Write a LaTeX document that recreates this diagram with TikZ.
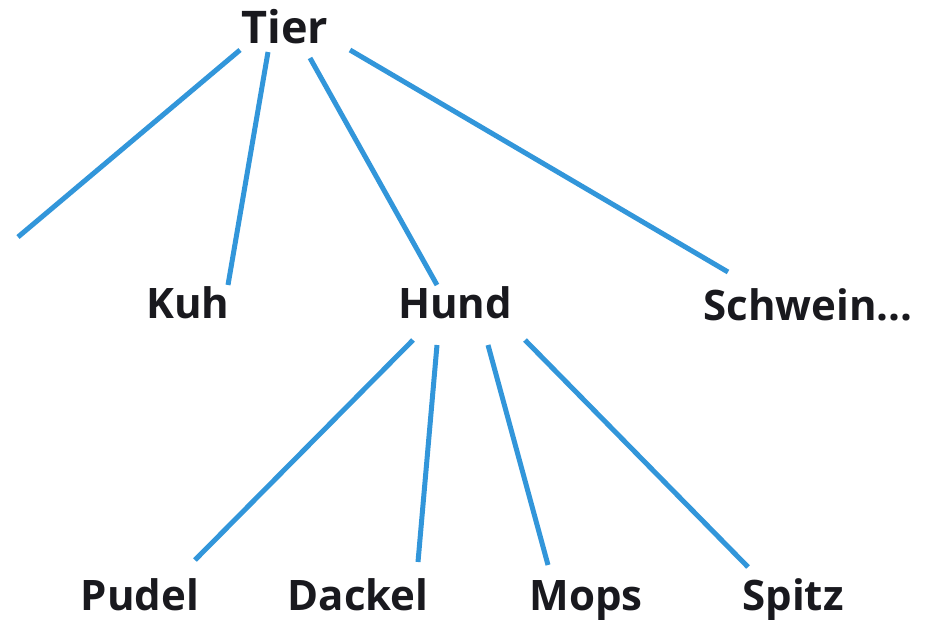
\documentclass[tikz,border=0pt]{standalone}
\usepackage{fontspec}
\setmainfont{Open Sans}
\usetikzlibrary{calc}
\definecolor{linkblue}{RGB}{50,150,218}
\definecolor{txt}{RGB}{25,25,30}
\tikzset{
  word/.style={anchor=base, inner sep=0pt, text=txt, font=\bfseries\fontsize{42}{42}\selectfont},
  link/.style={draw=linkblue, line width=5pt}
}
\begin{document}
\begin{tikzpicture}[x=1pt,y=-1pt]
\useasboundingbox (0,0) rectangle (929,619);
\node[word, font=\bfseries\fontsize{45}{45}\selectfont] (tier) at (285,43) {Tier};
\node[word] (kuh) at (188,318) {Kuh};
\node[word] (hund) at (455,318) {Hund};
\node[word] (schwein) at (808,320) {Schwein...};
\node[word] (pudel) at (140,610) {Pudel};
\node[word] (dackel) at (358,610) {Dackel};
\node[word] (mops) at (586,610) {Mops};
\node[word] (spitz) at (793,610) {Spitz};
\coordinate (lfree) at (18,237);
\draw[link] ($(tier.base)+(-45,7)$) -- (lfree);
\draw[link] ($(tier.base)+(-17,9)$) -- ($(kuh.base)+(40,-33)$);
\draw[link] ($(tier.base)+(25,15)$) -- ($(hund.base)+(-18,-33)$);
\draw[link] ($(tier.base)+(65,7)$) -- ($(schwein.base)+(-80,-48)$);
\draw[link] ($(hund.base)+(-42,22)$) -- ($(pudel.base)+(55,-50)$);
\draw[link] ($(hund.base)+(-18,27)$) -- ($(dackel.base)+(60,-48)$);
\draw[link] ($(hund.base)+(33,27)$) -- ($(mops.base)+(-38,-45)$);
\draw[link] ($(hund.base)+(70,22)$) -- ($(spitz.base)+(-45,-43)$);
\end{tikzpicture}
\end{document}
